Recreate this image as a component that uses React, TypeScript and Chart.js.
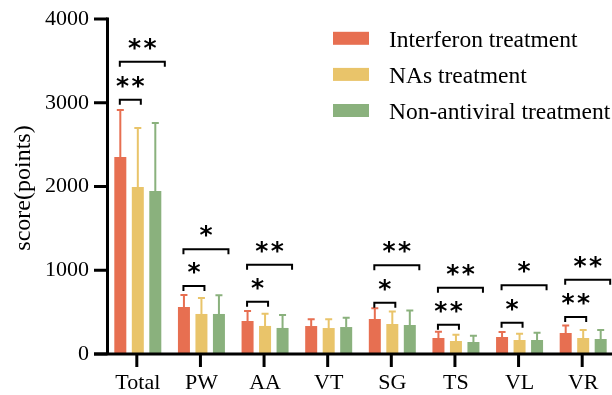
import React, { useEffect, useRef } from 'react';
import { Chart, registerables } from 'chart.js';

Chart.register(...registerables);

const categories = ['Total', 'PW', 'AA', 'VT', 'SG', 'TS', 'VL', 'VR'];
const seriesNames = ['Interferon treatment', 'NAs treatment', 'Non-antiviral treatment'];
const seriesColors = ['#E76F51', '#E9C46A', '#8AB17D'];

const interferonMean = [2352, 561, 394, 334, 418, 191, 203, 251];
const interferonSD = [561, 143, 120, 80, 128, 76, 60, 88];
const nasMean = [1994, 478, 335, 310, 358, 155, 167, 191];
const nasSD = [705, 191, 147, 104, 148, 76, 76, 96];
const nonAntiviralMean = [1946, 478, 311, 322, 346, 143, 167, 179];
const nonAntiviralSD = [812, 223, 155, 112, 172, 76, 88, 108];

// significance: Interferon vs NAs (inner) and Interferon vs Non-antiviral (outer)
const innerSigLabel = ['**', '*', '*', '', '*', '**', '*', '**'];
const innerSigLevel = [3035, 812, 625, null, 613, 350, 374, 442];
const outerSigLabel = ['**', '*', '**', '', '**', '**', '*', '**'];
const outerSigLevel = [3489, 1250, 1067, null, 1060, 792, 820, 888];

const yTicks = [0, 1000, 2000, 3000, 4000];
const yTitle = 'score(points)';

const meanSeries = [interferonMean, nasMean, nonAntiviralMean];
const sdSeries = [interferonSD, nasSD, nonAntiviralSD];

const SERIF = '"Liberation Serif", "Times New Roman", serif';

function drawStars(ctx: CanvasRenderingContext2D, label: string, cx: number, cy: number) {
  ctx.save();
  ctx.fillStyle = '#000';
  ctx.font = 'bold 25px "DejaVu Sans"';
  ctx.textAlign = 'center';
  ctx.textBaseline = 'alphabetic';
  const m = ctx.measureText('*');
  const base = cy + (m.actualBoundingBoxAscent - m.actualBoundingBoxDescent) / 2;
  const n = label.length;
  const gap = 15.5;
  for (let k = 0; k < n; k++) {
    const x = cx + (k - (n - 1) / 2) * gap;
    ctx.fillText('*', x, base);
  }
  ctx.restore();
}

function drawBracket(ctx: CanvasRenderingContext2D, x1: number, x2: number, y: number) {
  ctx.save();
  ctx.strokeStyle = '#000';
  ctx.lineWidth = 2;
  ctx.beginPath();
  ctx.moveTo(x1, y + 5);
  ctx.lineTo(x1, y);
  ctx.lineTo(x2, y);
  ctx.lineTo(x2, y + 5);
  ctx.stroke();
  ctx.restore();
}

const overlayPlugin = {
  id: 'overlay',
  afterDatasetsDraw(chart: any) {
    const ctx: CanvasRenderingContext2D = chart.ctx;
    const ys = chart.scales.y;
    chart.data.datasets.forEach((ds: any, di: number) => {
      const meta = chart.getDatasetMeta(di);
      ctx.save();
      ctx.strokeStyle = ds.backgroundColor;
      ctx.lineWidth = 2;
      meta.data.forEach((bar: any, i: number) => {
        const top = ys.getPixelForValue(meanSeries[di][i] + sdSeries[di][i]);
        ctx.beginPath();
        ctx.moveTo(bar.x, bar.y);
        ctx.lineTo(bar.x, top);
        ctx.moveTo(bar.x - 3.5, top);
        ctx.lineTo(bar.x + 3.5, top);
        ctx.stroke();
      });
      ctx.restore();
    });
  },
  afterDraw(chart: any) {
    const ctx: CanvasRenderingContext2D = chart.ctx;
    const area = chart.chartArea;
    const xs = chart.scales.x;
    const ys = chart.scales.y;
    ctx.save();
    ctx.strokeStyle = '#000';
    ctx.lineWidth = 3;
    ctx.lineCap = 'butt';
    // y axis
    const axX = area.left + 1.5;
    ctx.beginPath();
    ctx.moveTo(axX, area.top - 1.5);
    ctx.lineTo(axX, area.bottom);
    ctx.stroke();
    yTicks.forEach((v) => {
      const py = ys.getPixelForValue(v);
      ctx.beginPath();
      ctx.moveTo(area.left - 12, py);
      ctx.lineTo(axX, py);
      ctx.stroke();
    });
    // x axis
    const axY = area.bottom;
    ctx.beginPath();
    ctx.moveTo(area.left - 12, axY);
    ctx.lineTo(chart.width, axY);
    ctx.stroke();
    categories.forEach((_, i) => {
      const px = xs.getPixelForTick(i) - 1;
      ctx.beginPath();
      ctx.moveTo(px, axY);
      ctx.lineTo(px, axY + 13);
      ctx.stroke();
    });
    ctx.restore();

    // significance brackets
    categories.forEach((_, i) => {
      const cx = xs.getPixelForTick(i);
      const left = cx - 18;
      const innerRight = cx + 3;
      const outerRight = cx + 27;
      const il = innerSigLevel[i];
      if (il !== null && innerSigLabel[i]) {
        const py = ys.getPixelForValue(il);
        drawBracket(ctx, left, innerRight, py);
        drawStars(ctx, innerSigLabel[i], (left + innerRight) / 2, py - 18);
      }
      const ol = outerSigLevel[i];
      if (ol !== null && outerSigLabel[i]) {
        const py = ys.getPixelForValue(ol);
        drawBracket(ctx, left, outerRight, py);
        drawStars(ctx, outerSigLabel[i], (left + outerRight) / 2, py - 18);
      }
    });

    // legend
    ctx.save();
    ctx.font = '23.5px ' + SERIF;
    ctx.textAlign = 'left';
    ctx.textBaseline = 'alphabetic';
    seriesNames.forEach((name, k) => {
      const cy = 38.3 + k * 36.1;
      ctx.fillStyle = seriesColors[k];
      ctx.fillRect(333, cy - 6.5, 36, 13);
      ctx.fillStyle = '#000';
      ctx.fillText(name, 389, cy + 8.5);
    });
    ctx.restore();

    // y title
    ctx.save();
    ctx.font = '24px ' + SERIF;
    ctx.fillStyle = '#000';
    ctx.textAlign = 'center';
    ctx.textBaseline = 'middle';
    ctx.translate(24, 188);
    ctx.rotate(-Math.PI / 2);
    ctx.fillText(yTitle, 0, 0);
    ctx.restore();
  },
};

export default function App() {
  const canvasRef = useRef<HTMLCanvasElement | null>(null);

  useEffect(() => {
    const canvas = canvasRef.current;
    if (!canvas) return;
    const chart = new Chart(canvas, {
      type: 'bar',
      data: {
        labels: categories,
        datasets: meanSeries.map((d, k) => ({
          label: seriesNames[k],
          data: d,
          backgroundColor: seriesColors[k],
          borderWidth: 0,
          barPercentage: 0.686,
          categoryPercentage: 0.825,
        })),
      },
      options: {
        responsive: false,
        animation: false,
        devicePixelRatio: 1,
        layout: { padding: { top: 19, right: 1, left: 0, bottom: 0 } },
        plugins: { legend: { display: false }, tooltip: { enabled: false } },
        scales: {
          x: {
            grid: { display: false, drawTicks: false },
            border: { display: false },
            ticks: { font: { family: SERIF, size: 22 }, color: '#000', padding: 16, maxRotation: 0, autoSkip: false },
            afterFit(s: any) {
              s.height = 41;
              s.paddingLeft = 0;
              s.paddingRight = 0;
            },
          },
          y: {
            min: 0,
            max: 4000,
            grid: { display: false, drawTicks: false },
            border: { display: false },
            ticks: {
              stepSize: 1000,
              font: { family: SERIF, size: 22 },
              color: '#000',
              padding: 17,
              callback: (v: any) => String(v),
            },
            afterFit(s: any) {
              s.width = 106;
              s.paddingTop = 0;
              s.paddingBottom = 0;
            },
          },
        },
      } as any,
      plugins: [overlayPlugin],
    });
    return () => chart.destroy();
  }, []);

  return (
    <div style={{ position: 'fixed', left: 0, top: 0, width: 612, height: 395, overflow: 'hidden', background: '#fff' }}>
      <canvas ref={canvasRef} width={616} height={395} style={{ display: 'block', width: 616, height: 395 }} />
    </div>
  );
}
